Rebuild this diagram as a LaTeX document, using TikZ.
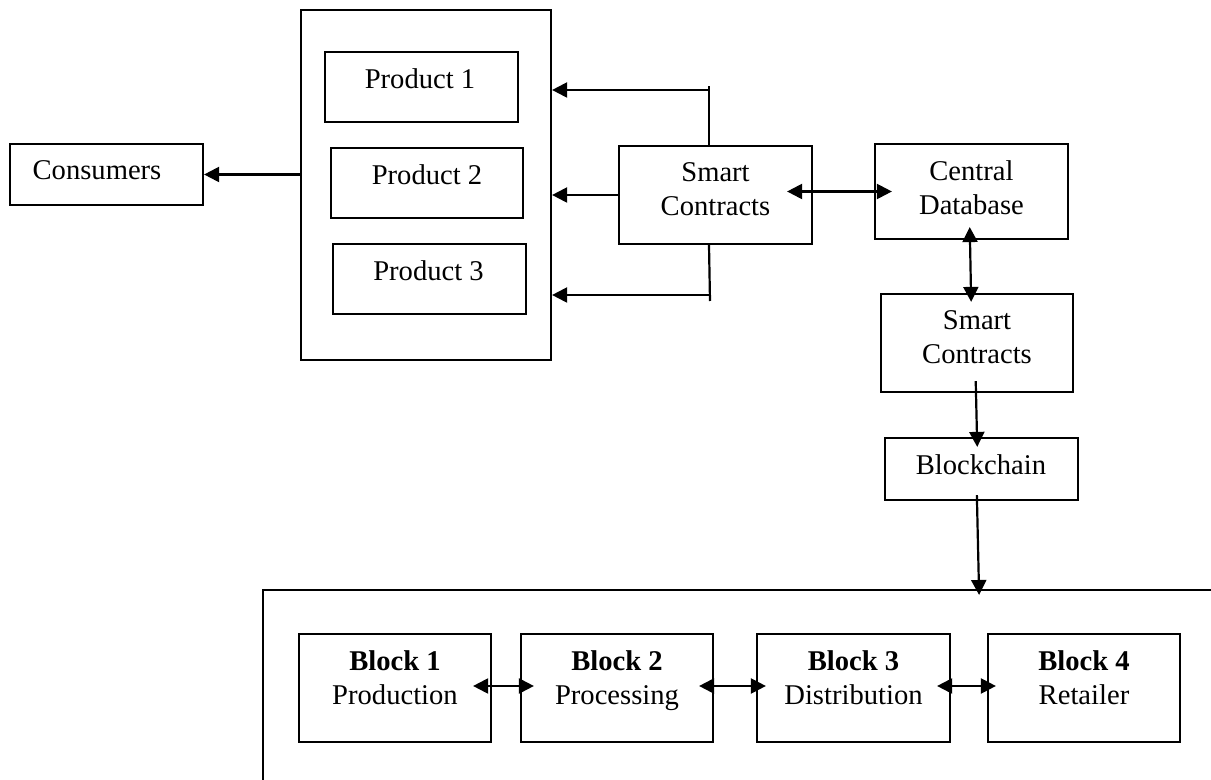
\documentclass[tikz,border=0pt]{standalone}
\usepackage{fontspec}
\setmainfont{Liberation Serif}
\usetikzlibrary{arrows.meta}
\begin{document}
\begin{tikzpicture}[x=0.5pt,y=-0.5pt,
  box/.style={draw, line width=1.1pt, inner sep=0pt},
  txt/.style={inner sep=0pt, anchor=north, align=center,
    font=\fontsize{14.3}{17}\selectfont},
  link/.style={line width=1.1pt},
  tip/.tip={Triangle[length=7.5pt,width=7.5pt]},
  arr/.style={link, -tip},
  darr/.style={link, tip-tip},
]
\useasboundingbox (0,0) rectangle (1211,780);

% --- consumers and the product shelf ---
\node[box, minimum width=96.5pt, minimum height=30.5pt] (cons) at (106.5,174.5) {};
\node[txt] (consT) at ([xshift=-4.75pt,yshift=-8.8pt]cons.north) {Consumers};

\node[box, minimum width=125pt, minimum height=175pt] (shelf) at (426,185) {};
\node[box, minimum width=96.5pt, minimum height=35pt] (p1) at (421.5,87) {};
\node[box, minimum width=96pt, minimum height=35pt] (p2) at (427,183) {};
\node[box, minimum width=96.5pt, minimum height=35pt] (p3) at (429.5,279) {};
\node[txt] (p1T) at ([xshift=-0.75pt,yshift=-8.8pt]p1.north) {Product 1};
\node[txt] (p2T) at ([yshift=-8.8pt]p2.north) {Product 2};
\node[txt] (p3T) at ([xshift=-0.5pt,yshift=-8.8pt]p3.north) {Product 3};

% --- contracts, database, blockchain ---
\node[box, minimum width=96.5pt, minimum height=49pt] (sc1) at (715.5,195) {};
\node[txt] (sc1T) at ([yshift=-8.8pt]sc1.north) {Smart\\Contracts};

\node[box, minimum width=96.5pt, minimum height=47.5pt] (cd) at (971.5,191.5) {};
\node[txt] (cdT) at ([yshift=-8.8pt]cd.north) {Central\\Database};

\node[box, minimum width=96pt, minimum height=49pt] (sc2) at (977,343) {};
\node[txt] (sc2T) at ([yshift=-8.8pt]sc2.north) {Smart\\Contracts};

\node[box, minimum width=96.5pt, minimum height=31pt] (bc) at (981.5,469) {};
\node[txt] (bcT) at ([xshift=-0.25pt,yshift=-8.8pt]bc.north) {Blockchain};

% --- chain frame and its blocks ---
\coordinate (frameL) at (263,780);
\coordinate (frameC) at (263,590);
\coordinate (frameR) at (1211,590);
\draw[link] (frameL) -- (frameC) -- (frameR);
\coordinate (frameIn) at (979,590);

\node[box, minimum width=96pt, minimum height=54pt] (b1) at (395,688) {};
\node[box, minimum width=96pt, minimum height=54pt] (b2) at (617,688) {};
\node[box, minimum width=96.5pt, minimum height=54pt] (b3) at (853.5,688) {};
\node[box, minimum width=96pt, minimum height=54pt] (b4) at (1084,688) {};
\node[txt] (b1T) at ([yshift=-8.8pt]b1.north) {\textbf{Block 1}\\Production};
\node[txt] (b2T) at ([yshift=-8.8pt]b2.north) {\textbf{Block 2}\\Processing};
\node[txt] (b3T) at ([yshift=-8.8pt]b3.north) {\textbf{Block 3}\\Distribution};
\node[txt] (b4T) at ([yshift=-8.8pt]b4.north) {\textbf{Block 4}\\Retailer};

% --- connectors ---
\draw[arr] (shelf.west |- cons.east) -- (cons.east);

\coordinate (topBar) at (709,86);
\coordinate (topJoin) at (709,90);
\draw[link] (sc1.north -| topBar) -- (topBar);
\draw[arr] (topJoin) -- (topJoin -| shelf.east);

\draw[arr] (sc1.west) -- (sc1.west -| shelf.east);

\coordinate (botBar) at (710,301);
\coordinate (botJoin) at (710,295);
\draw[link] (sc1.south -| topBar) -- (botBar);
\draw[arr] (botJoin) -- (botJoin -| shelf.east);

\draw[darr, shorten <=-13pt, shorten >=-9pt] (sc1.east |- cd.west) -- (cd.west);
\draw[darr, shorten <=-6.5pt, shorten >=-4.5pt]
  ([xshift=-0.75pt]cd.south) -- ([xshift=-3pt]sc2.north);
\draw[arr, shorten <=-6pt, shorten >=-5pt]
  ([xshift=-0.5pt]sc2.south) -- ([xshift=-2.25pt]bc.north);
\draw[arr, shorten <=-3pt, shorten >=-2.5pt]
  ([xshift=-2.25pt]bc.south) -- (frameIn);

\draw[darr, shorten <=-9.5pt, shorten >=-7pt] ([yshift=1pt]b1.east) -- ([yshift=1pt]b2.west);
\draw[darr, shorten <=-7.5pt, shorten >=-5pt] ([yshift=1pt]b2.east) -- ([yshift=1pt]b3.west);
\draw[darr, shorten <=-7pt, shorten >=-4.5pt] ([yshift=1pt]b3.east) -- ([yshift=1pt]b4.west);
\end{tikzpicture}
\end{document}
